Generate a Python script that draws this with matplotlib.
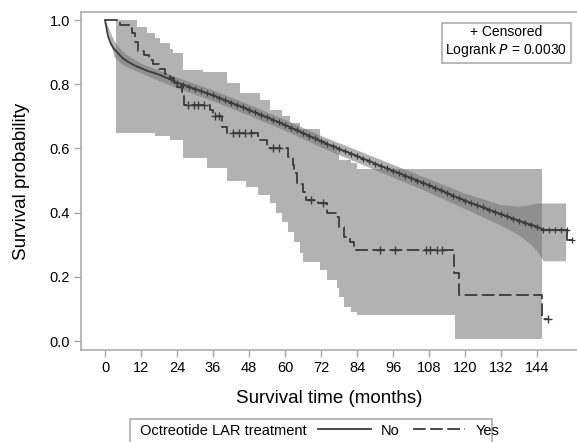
import matplotlib
matplotlib.use("Agg")
import matplotlib.pyplot as plt
from matplotlib.lines import Line2D
from matplotlib.patches import Rectangle
import numpy as np

plt.rcParams['font.family'] = ['Liberation Sans', 'DejaVu Sans']

# "No" group: Kaplan-Meier estimate
no_t = [0, 1, 2, 3, 4, 6, 8, 10, 12, 14, 16, 18, 20, 22,
        24, 26, 28, 30, 32, 34, 36, 38, 40, 42, 44, 46, 48, 50, 52, 54, 56, 58,
        60, 62, 64, 66, 68, 70, 72, 74, 76, 78, 80, 82, 84, 86, 88, 90, 92, 94,
        96, 98, 100, 102, 104, 106, 108, 110, 112, 114, 116, 118, 120, 122, 124,
        126, 128, 130, 132, 134, 136, 138, 140, 142, 144, 146, 148, 150, 152, 154]
no_s = [1.0, 0.95, 0.925, 0.91, 0.90, 0.88, 0.868, 0.858, 0.85, 0.842, 0.836, 0.83, 0.822, 0.815,
        0.805, 0.799, 0.792, 0.785, 0.779, 0.772, 0.765, 0.758, 0.750, 0.743, 0.735, 0.728, 0.720,
        0.712, 0.704, 0.697, 0.689, 0.681, 0.673, 0.665, 0.656, 0.648, 0.639, 0.631, 0.622, 0.614,
        0.607, 0.599, 0.591, 0.584, 0.576, 0.568, 0.561, 0.553, 0.545, 0.538, 0.530, 0.523, 0.515,
        0.508, 0.500, 0.493, 0.485, 0.477, 0.469, 0.461, 0.453, 0.445, 0.437, 0.430, 0.423, 0.416,
        0.409, 0.402, 0.395, 0.388, 0.381, 0.375, 0.368, 0.362, 0.356, 0.347, 0.346, 0.346, 0.346, 0.346]
no_tail_t = [154, 155.5]
no_tail_s = [0.316, 0.316]

# "No" group confidence band
no_ci_t = [0, 3, 6, 12, 24, 36, 48, 60, 72, 84, 96, 108, 120, 132, 138, 142, 144, 146, 153.5]
no_ci_hi = [1.0, 0.935, 0.9, 0.865, 0.822, 0.782, 0.737, 0.69, 0.64, 0.595, 0.55, 0.505,
            0.46, 0.425, 0.42, 0.425, 0.43, 0.43, 0.43]
no_ci_lo = [1.0, 0.885, 0.86, 0.835, 0.788, 0.748, 0.703, 0.656, 0.604, 0.557, 0.51, 0.463,
            0.412, 0.36, 0.33, 0.30, 0.28, 0.25, 0.25]

# "Yes" group (Octreotide LAR) step curve
yes_t = [0, 5, 9, 10, 11, 13, 14.5, 16, 18, 20, 21.7, 23, 24, 25.6, 26.2, 35, 36, 39, 40.5,
         51, 54, 61, 62.5, 63, 64, 66, 67, 71, 74, 77, 78, 79.5, 81.7, 83, 116.3, 118, 145.7, 148]
yes_s = [1.0, 0.985, 0.96, 0.93, 0.905, 0.89, 0.875, 0.862, 0.848, 0.833, 0.82, 0.805, 0.79,
         0.775, 0.735, 0.72, 0.70, 0.667, 0.648, 0.626, 0.60, 0.573, 0.548, 0.523, 0.49, 0.465,
         0.44, 0.43, 0.40, 0.386, 0.355, 0.325, 0.31, 0.283, 0.213, 0.143, 0.07, 0.07]
yes_cens_t = [27.5, 29.5, 31, 33, 36.8, 38, 42.5, 44.5, 46.5, 48.5, 56, 58, 68.5, 72.5,
              91.7, 96.7, 107, 108.2, 110.7, 112.3, 147.7]
yes_cens_s = [0.735, 0.735, 0.735, 0.735, 0.70, 0.70, 0.648, 0.648, 0.648, 0.648, 0.60, 0.60,
              0.44, 0.43, 0.283, 0.283, 0.283, 0.283, 0.283, 0.283, 0.07]

# "Yes" group confidence band (steps)
yes_ci_t = [3.5, 8, 10.7, 14, 16.7, 18.3, 21.7, 22.7, 26, 32.7, 34, 40.7, 45, 47, 51, 51.7,
            55, 57, 59, 61, 61.7, 63, 65, 66, 71.7, 74, 77.3, 78, 79.5, 82, 84, 116.7, 145.7]
yes_ci_hi = [1.0, 1.0, 0.978, 0.96, 0.945, 0.928, 0.91, 0.897, 0.844, 0.838, 0.838, 0.804,
             0.773, 0.773, 0.773, 0.75, 0.72, 0.72, 0.70, 0.70, 0.68, 0.68, 0.66, 0.66, 0.626,
             0.61, 0.585, 0.565, 0.565, 0.555, 0.535, 0.535, 0.535]
yes_ci_lo = [0.648, 0.648, 0.648, 0.648, 0.64, 0.64, 0.626, 0.626, 0.57, 0.57, 0.54, 0.50,
             0.50, 0.48, 0.455, 0.455, 0.43, 0.40, 0.37, 0.34, 0.34, 0.31, 0.275, 0.246, 0.22,
             0.19, 0.165, 0.137, 0.106, 0.09, 0.081, 0.006, 0.006]

xticks = list(range(0, 145, 12))
yticks = [0.0, 0.2, 0.4, 0.6, 0.8, 1.0]

line_col = '#3a3a3a'
band_col = (0.45, 0.45, 0.45)
frame_col = '#a6a6a6'

fig = plt.figure(figsize=(5.77, 4.42), dpi=100)
ax = fig.add_axes([81 / 577, 1 - 350 / 442, 496 / 577, 338 / 442])

ax.fill_between(yes_ci_t, yes_ci_lo, yes_ci_hi, step='post', color=band_col, alpha=0.55, lw=0)
ax.fill_between(no_ci_t, no_ci_lo, no_ci_hi, color=band_col, alpha=0.55, lw=0)

ax.plot(no_t, no_s, color=line_col, lw=1.3)
ax.plot(no_t[13:], no_s[13:], ls='none', marker='+', ms=5, mew=0.9, color=line_col)
ax.plot([no_t[-1]] + no_tail_t, [no_s[-1]] + no_tail_s, color=line_col, lw=1.3,
        drawstyle='steps-post')
ax.plot(no_tail_t[1:], no_tail_s[1:], ls='none', marker='+', ms=5, mew=0.9, color=line_col)

ax.plot(yes_t, yes_s, color=line_col, lw=1.3, drawstyle='steps-post', ls=(0, (7, 2.5)))
ax.plot(yes_cens_t, yes_cens_s, ls='none', marker='+', ms=6, mew=1.0, color=line_col)

ax.set_xlim(-8, 157.3)
ax.set_ylim(-0.028, 1.025)
ax.set_xticks(xticks)
ax.set_yticks(yticks)
ax.set_yticklabels([f'{v:.1f}' for v in yticks])
for s in ['left', 'bottom', 'top']:
    ax.spines[s].set_color(frame_col)
    ax.spines[s].set_linewidth(1.1)
ax.spines['right'].set_visible(False)
ax.tick_params(direction='out', length=5, width=1, color=frame_col, labelsize=10.5, pad=3)

ax.set_xlabel('Survival time (months)', fontsize=13.5, labelpad=11)
ax.set_ylabel('Survival probability', fontsize=13.5, labelpad=14)

ax.text(0.98, 0.962, '+ Censored\nLogrank $\\it{P}$ = 0.0030', transform=ax.transAxes,
        ha='right', va='top', multialignment='center', fontsize=10,
        bbox=dict(boxstyle='square,pad=0.25', fc='white', ec=frame_col, lw=1.1))

# bottom legend box
fig.add_artist(Rectangle((130 / 577, -0.03), 362 / 577, 0.081, transform=fig.transFigure,
                         fill=False, ec=frame_col, lw=1.1))
fig.text(140 / 577, 0.026, 'Octreotide LAR treatment', fontsize=10.5, va='center', ha='left')
handles = [Line2D([], [], color=line_col, lw=1.3),
           Line2D([], [], color=line_col, lw=1.3, ls=(0, (7, 2.5)))]
fig.legend(handles, ['No', 'Yes'], ncol=2, frameon=False, loc='center left',
           bbox_to_anchor=(318 / 577, 0.026), fontsize=10.5, handlelength=3.6,
           handletextpad=0.7, columnspacing=0.9, borderpad=0, borderaxespad=0)

fig.savefig('out.png', dpi=100)
